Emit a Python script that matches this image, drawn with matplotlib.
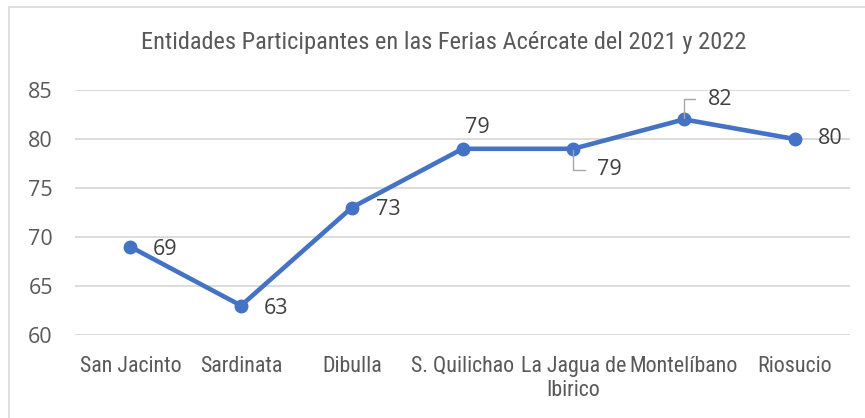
import matplotlib
matplotlib.use('Agg')
import matplotlib.pyplot as plt
from matplotlib.patches import Rectangle

# data
categories = ['San Jacinto', 'Sardinata', 'Dibulla', 'S. Quilichao',
              'La Jagua de\nIbirico', 'Montelíbano', 'Riosucio']
values = [69, 63, 73, 79, 79, 82, 80]
y_ticks = [60, 65, 70, 75, 80, 85]
title = 'Entidades Participantes en las Ferias Acércate del 2021 y 2022'

# label placement (offset in pixels from the point) and which ones get a leader line
label_offsets = [(22, -3), (23, -3), (24, -2), (2, 21), (24, -21), (24, 20), (23, 0)]
leader = [False, False, False, False, True, True, False]

narrow = ['Roboto Condensed', 'DejaVu Sans']
ui_font = ['Open Sans', 'DejaVu Sans']
blue = '#4472C4'

W, H = 865, 418
fig = plt.figure(figsize=(W / 100, H / 100), dpi=100)
ax = fig.add_axes([75 / W, (H - 335) / H, 775 / W, 245 / H])

x = list(range(len(categories)))
ax.plot(x, values, color=blue, linewidth=3.3, marker='o', markersize=9,
        solid_capstyle='round', zorder=3)

for i, v in enumerate(values):
    dx, dy = label_offsets[i]
    kw = {}
    if leader[i]:
        kw['arrowprops'] = dict(arrowstyle='-', color='#A6A6A6', lw=1,
                                connectionstyle='angle,angleA=0,angleB=90,rad=0',
                                relpos=(0, 0.5), shrinkA=7, shrinkB=1)
    ax.annotate(str(v), (i, v), xytext=(dx, dy), textcoords='offset pixels',
                ha='left', va='center', fontsize=15.5, color='#404040',
                family=ui_font, zorder=4, **kw)

ax.set_xlim(-0.5, len(categories) - 0.5)
ax.set_ylim(60, 85)
ax.set_yticks(y_ticks)
ax.set_xticks(x)
ax.set_xticklabels(categories, family=narrow, fontsize=15.8, color='#595959',
                   linespacing=1.2)
for lab in ax.get_yticklabels():
    lab.set_family(ui_font)
ax.tick_params(axis='y', labelsize=15.5, labelcolor='#595959', length=0, pad=16)
ax.tick_params(axis='x', length=0, pad=15)
ax.grid(axis='y', color='#D9D9D9', linewidth=1.3)
ax.set_axisbelow(True)
for s in ax.spines.values():
    s.set_visible(False)

fig.text(444 / W, 1 - 42 / H, title, ha='center', va='center',
         family=narrow, fontsize=17.6, color='#595959')

# chart area border (right and bottom edges fall outside the crop)
fig.patches.append(Rectangle((9 / W, -0.1), 1.1, 1 - 7 / H + 0.1,
                             transform=fig.transFigure, fill=False,
                             edgecolor='#D9D9D9', linewidth=1.2))

fig.savefig('out.png', dpi=100)
